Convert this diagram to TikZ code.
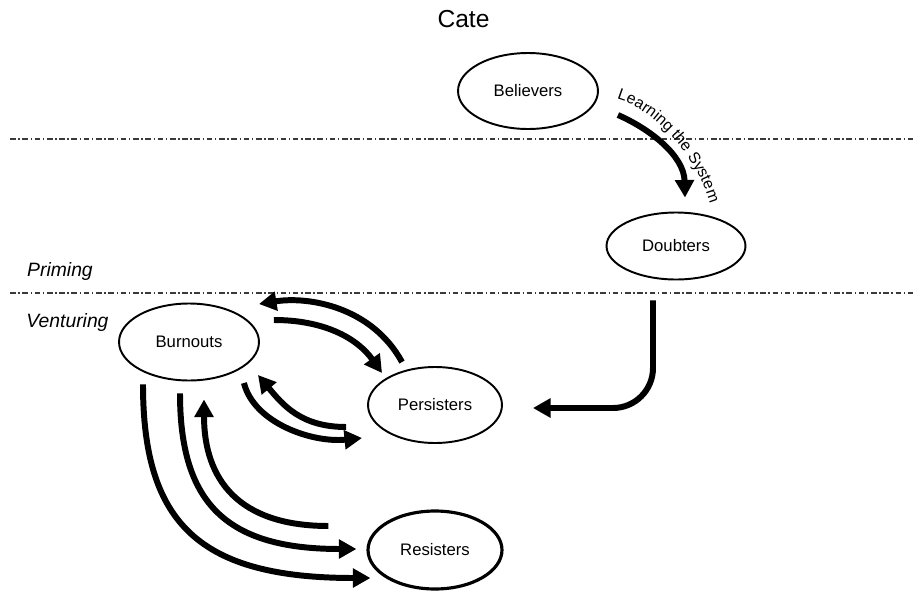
\documentclass[tikz,border=0pt]{standalone}
\usepackage{fontspec}
\setmainfont{Liberation Sans}
\usetikzlibrary{arrows.meta,shapes.geometric,decorations.text}
\definecolor{vblack}{HTML}{000000}
\definecolor{vgray}{HTML}{3a3a3a}

\begin{document}
\begin{tikzpicture}[x=0.02cm, y=-0.02cm,
	stage/.style={draw=vblack, line width=1.1pt, ellipse, inner sep=0pt, font=\fontsize{9.5}{11}\selectfont},
	flow/.style={draw=vblack, line width=3.4pt, -{Triangle[length=10pt,width=10.5pt]}},
	divider/.style={draw=vgray, line width=0.6pt, dash pattern=on 3.2pt off 1.5pt on 0.8pt off 1.5pt},
	phase/.style={anchor=base, font=\fontsize{11}{13}\selectfont\itshape}]
	\useasboundingbox (0,0) rectangle (920,592);
	% title and phases
	\node[anchor=base, font=\fontsize{14}{16}\selectfont] (title) at (463.5,27) {Cate};
	\draw[divider] (10,139) -- (915,139);
	\draw[divider] (10,293) -- (915,293);
	\node[phase] (priming) at (60,276) {Priming};
	\node[phase] (venturing) at (67.5,327) {Venturing};
	% stages
	\node[stage, minimum width=2.8cm, minimum height=1.52cm] (believers) at (528,91) {Believers};
	\node[stage, minimum width=2.78cm, minimum height=1.34cm] (doubters) at (676,246) {Doubters};
	\node[stage, minimum width=2.8cm, minimum height=1.54cm] (burnouts) at (189,342) {Burnouts};
	\node[stage, minimum width=2.68cm, minimum height=1.52cm] (persisters) at (435,405) {Persisters};
	\node[stage, line width=1.8pt, minimum width=2.68cm, minimum height=1.56cm] (resisters) at (435,550) {Resisters};
	% transitions
	\draw[flow] ([shift={(19,24)}]believers.east) .. controls +(32,14) and +(-1,-42) .. ([shift={(9,-14)}]doubters.north);
	\path[decorate, decoration={text along path, text align=left,
		text={|\fontsize{9}{10}\selectfont|Learning the System}}]
		([shift={(18,8)}]believers.east) .. controls +(42,12) and +(-8,-55) .. ([shift={(38,10)}]doubters.north);
	\draw[flow, rounded corners=0.8cm] ([shift={(-23,20)}]doubters.south) |- ([shift={(30,3)}]persisters.east);
	\draw[flow] ([shift={(-33,-4)}]persisters.north) .. controls +(-30,-55) and +(50,-8) .. ([shift={(-1,-38)}]burnouts.east);
	\draw[flow] ([shift={(14,-22)}]burnouts.east) .. controls +(50,0) and +(-25,-35) .. ([shift={(15,-32)}]persisters.west);
	\draw[flow] ([shift={(-21,22)}]persisters.west) .. controls +(-45,0) and +(25,30) .. ([shift={(-2,33)}]burnouts.east);
	\draw[flow] ([shift={(-16,41)}]burnouts.east) .. controls +(10,40) and +(-50,5) .. ([shift={(-5,33)}]persisters.west);
	\draw[flow] ([shift={(-46,3)}]burnouts.south) .. controls +(0,140) and +(-170,0) .. ([shift={(4,28)}]resisters.west);
	\draw[flow] ([shift={(-9,12)}]burnouts.south) .. controls +(0,110) and +(-130,0) .. ([shift={(-10,-1)}]resisters.west);
	\draw[flow] ([shift={(-38,-24)}]resisters.west) .. controls +(-90,0) and +(0,80) .. ([shift={(15,18)}]burnouts.south);
\end{tikzpicture}
\end{document}
